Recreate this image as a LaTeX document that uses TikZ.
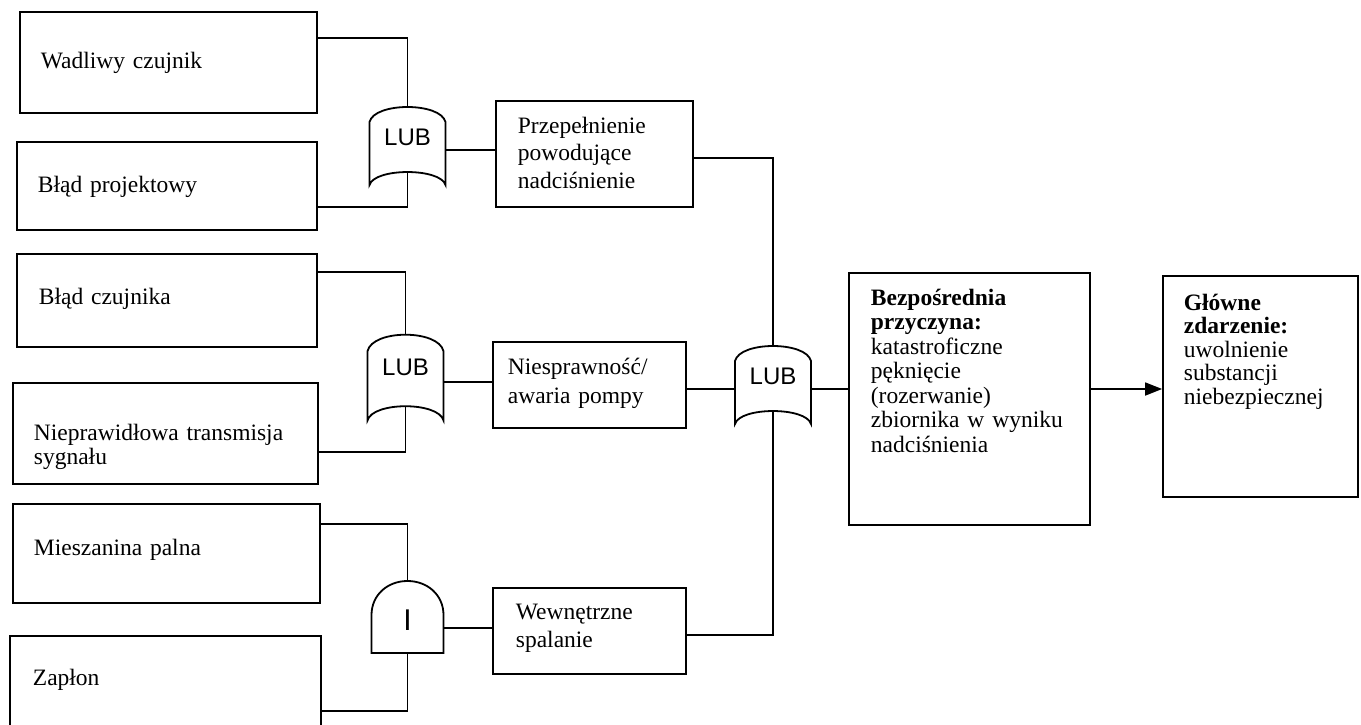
\documentclass[tikz,border=0pt]{standalone}
\usepackage{fontspec}
\setmainfont{Liberation Serif}
\newfontfamily\gatefont{Liberation Sans}
\usetikzlibrary{arrows.meta}

\tikzset{
  box/.style={draw, rectangle, inner sep=0pt},
  txt/.style={anchor=base west, inner sep=0pt, text width=320pt, align=left,
    font=\fontsize{23.5}{24}\selectfont},
  gatelabel/.style={inner sep=0pt, font=\gatefont\fontsize{24}{24}\selectfont},
  % OR gate: arched top, hollow bottom
  orgate/.pic={
    \draw[fill=white] (-38,-28) .. controls (-33,-48) and (33,-48) .. (38,-28)
      -- (38,35) .. controls (33,17.7) and (-33,17.7) .. (-38,35) -- cycle;
    \node[gatelabel] (-lbl) at (0,-13) {LUB};
    \coordinate (-top) at (0,-43);
    \coordinate (-bot) at (0,22);
    \coordinate (-in) at (-38,0);
    \coordinate (-out) at (38,0);
  },
  % AND gate: rounded dome on a flat base
  andgate/.pic={
    \draw[fill=white] (-36,25) -- (-36,-13) .. controls (-36,-33) and (-20,-47) .. (0,-47)
      .. controls (20,-47) and (36,-33) .. (36,-13) -- (36,25) -- cycle;
    \node[inner sep=0pt, font=\gatefont\fontsize{30}{30}\selectfont] (-lbl) at (0,-8) {I};
    \coordinate (-top) at (0,-47);
    \coordinate (-bot) at (0,25);
    \coordinate (-out) at (36,0);
  },
}

\begin{document}
\begin{tikzpicture}[x=1pt, y=-1pt, line width=1.8pt]
\useasboundingbox (0,0) rectangle (1361,725);
\clip (0,0) rectangle (1361,725);

% basic events
\node[box, minimum width=297pt, minimum height=101pt] (w1) at (168.5,62.5) {};
\node[box, minimum width=300pt, minimum height=88pt]  (w2) at (167,186) {};
\node[box, minimum width=300pt, minimum height=93pt]  (w3) at (167,300.5) {};
\node[box, minimum width=305pt, minimum height=101pt] (w4) at (165.5,433.5) {};
\node[box, minimum width=307pt, minimum height=99pt]  (w5) at (166.5,553.5) {};
\node[box, minimum width=311pt, minimum height=110pt] (w6) at (165.5,691) {};

\node[txt] (t1) at (40,69)  {Wadliwy czujnik};
\node[txt] (t2) at (37,192) {Błąd projektowy};
\node[txt] (t3) at (38,304) {Błąd czujnika};
\node[txt] (t4) at (33,440) {Nieprawidłowa transmisja\\sygnału};
\node[txt] (t5) at (33,555) {Mieszanina palna};
\node[txt] (t6) at (32,685) {Zapłon};

% intermediate events
\node[box, minimum width=197pt, minimum height=106pt] (p)  at (594.5,154) {};
\node[box, minimum width=193pt, minimum height=86pt]  (n)  at (589.5,385) {};
\node[box, minimum width=193pt, minimum height=86pt]  (we) at (589.5,631) {};

\node[txt, font=\fontsize{23.5}{27.5}\selectfont] (tp) at (517,133)
  {Przepełnienie\\powodujące\\nadciśnienie};
\node[txt, font=\fontsize{23.5}{29}\selectfont] (tn) at (507,374)
  {Niesprawność/\\awaria pompy};
\node[txt, font=\fontsize{23.5}{28}\selectfont] (twe) at (515,619)
  {Wewnętrzne\\spalanie};

% direct cause and top event
\node[box, minimum width=241pt, minimum height=252pt] (b) at (969.5,399) {};
\node[box, minimum width=195pt, minimum height=221pt] (g) at (1260.5,386.5) {};

\node[txt, font=\fontsize{23.5}{24.5}\selectfont] (tb) at (870,305)
  {\textbf{Bezpośrednia}\\\textbf{przyczyna:}\\katastroficzne\\pęknięcie\\(rozerwanie)\\zbiornika w wyniku\\nadciśnienia};
\node[txt, font=\fontsize{23.5}{23.5}\selectfont] (tg) at (1183,310)
  {\textbf{Główne}\\\textbf{zdarzenie:}\\uwolnienie\\substancji\\niebezpiecznej};

% gates
\pic (g1) at (407.5,150) {orgate};
\pic[yscale=1.1] (g2) at (405.5,382) {orgate};
\pic (g3) at (773,389) {orgate};
\pic (g4) at (407.5,628) {andgate};

% connections
\draw (w1.east |- 0,38)  -| (g1-top);
\draw (w2.east |- 0,207) -| (g1-bot);
\draw (g1-out) -- (g1-out -| p.west);

\draw (w3.east |- 0,272) -| (g2-top);
\draw (w4.east |- 0,452) -| (g2-bot);
\draw (g2-out) -- (g2-out -| n.west);

\draw (w5.east |- 0,524) -| (g4-top);
\draw (w6.east |- 0,711) -| (g4-bot);
\draw (g4-out) -- (g4-out -| we.west);

\draw (p.east |- 0,158)  -| (g3-top);
\draw (n.east |- g3-in)  -- (g3-in);
\draw (we.east |- 0,635) -| (g3-bot);
\draw (g3-out) -- (g3-out -| b.west);

\draw[-{Triangle[length=17pt,width=13pt]}] (b.east |- 0,389) -- (g.west |- 0,389);
\end{tikzpicture}
\end{document}
